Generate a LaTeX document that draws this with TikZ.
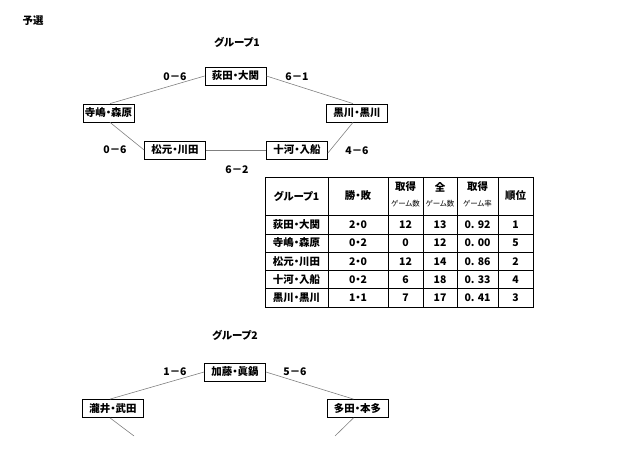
\documentclass[tikz,border=0pt]{standalone}
\usepackage{fontspec}
\setmainfont{Noto Sans CJK JP}[RawFeature=+palt]
\begin{document}
\begin{tikzpicture}[x=1bp,y=-1bp,
	doi/.style={draw,line width=0.8pt,minimum width=61bp,minimum height=18bp,inner sep=0pt,font=\bfseries\fontsize{10.5}{12}\selectfont},
	noi/.style={draw=gray,line width=0.6pt},
	chu/.style={font=\bfseries\fontsize{10.5}{12}\selectfont},
	nho/.style={font=\fontsize{7.5}{9}\selectfont}]
				\useasboundingbox (0,0) rectangle (640,453);
				\node[chu] (tieude) at (33,21) {予選};
				%Nhom 1
				\node[chu] (nhom1) at (237,42) {グループ1};
				\node[doi] (ogita) at (235.5,76) {荻田・大関};
				\node[doi,minimum width=51bp] (terashima) at (108.5,113) {寺嶋・森原};
				\node[doi] (kurokawa) at (357,113) {黒川・黒川};
				\node[doi] (matsumoto) at (175,150) {松元・川田};
				\node[doi] (sogo) at (297,150) {十河・入船};
				%Duong noi 1
				\draw[noi] (ogita.west) -- ([xshift=1.5bp]terashima.north);
				\draw[noi] (ogita.east) -- ([xshift=-4bp]kurokawa.north);
				\draw[noi] ([xshift=1.5bp]terashima.south) -- (matsumoto.west);
				\draw[noi] (matsumoto) -- (sogo);
				\draw[noi] ([yshift=-3bp]sogo.east) -- ([xshift=-4bp]kurokawa.south);
				%Ti so 1
				\node[chu] (kq1) at (175,77) {0－6};
				\node[chu] (kq2) at (297,77) {6－1};
				\node[chu] (kq3) at (115,150) {0－6};
				\node[chu] (kq4) at (357,151) {4－6};
				\node[chu] (kq5) at (237,170) {6－2};
				%Bang
				\draw[line width=0.7pt] (265,177) rectangle (533,307);
				\draw[line width=0.6pt] (328,177)--(328,307) (388,177)--(388,307) (423,177)--(423,307) (457,177)--(457,307) (498,177)--(498,307);
				\draw[line width=0.6pt] (265,215.5)--(533,215.5) (265,233.8)--(533,233.8) (265,252.1)--(533,252.1) (265,270.4)--(533,270.4) (265,288.7)--(533,288.7);
				%Dong tieu de
				\node[chu] (h1) at (296.5,196) {グループ1};
				\node[chu] (h2) at (358,196) {勝・敗};
				\node[chu] (h3) at (405.5,187) {取得};
				\node[nho] (h3b) at (405.5,204) {ゲーム数};
				\node[chu] (h4) at (440,187) {全};
				\node[nho] (h4b) at (440,204) {ゲーム数};
				\node[chu] (h5) at (477.5,187) {取得};
				\node[nho] (h5b) at (477.5,204) {ゲーム率};
				\node[chu] (h6) at (515.5,196) {順位};
				%Dong 1
				\node[chu] at (296.5,224.7) {荻田・大関};
				\node[chu] at (358,224.7) {2・0};
				\node[chu] at (405.5,224.7) {12};
				\node[chu] at (440,224.7) {13};
				\node[chu] at (477.5,224.7) {0. 92};
				\node[chu] at (515.5,224.7) {1};
				%Dong 2
				\node[chu] at (296.5,243) {寺嶋・森原};
				\node[chu] at (358,243) {0・2};
				\node[chu] at (405.5,243) {0};
				\node[chu] at (440,243) {12};
				\node[chu] at (477.5,243) {0. 00};
				\node[chu] at (515.5,243) {5};
				%Dong 3
				\node[chu] at (296.5,261.3) {松元・川田};
				\node[chu] at (358,261.3) {2・0};
				\node[chu] at (405.5,261.3) {12};
				\node[chu] at (440,261.3) {14};
				\node[chu] at (477.5,261.3) {0. 86};
				\node[chu] at (515.5,261.3) {2};
				%Dong 4
				\node[chu] at (296.5,279.6) {十河・入船};
				\node[chu] at (358,279.6) {0・2};
				\node[chu] at (405.5,279.6) {6};
				\node[chu] at (440,279.6) {18};
				\node[chu] at (477.5,279.6) {0. 33};
				\node[chu] at (515.5,279.6) {4};
				%Dong 5
				\node[chu] at (296.5,297.9) {黒川・黒川};
				\node[chu] at (358,297.9) {1・1};
				\node[chu] at (405.5,297.9) {7};
				\node[chu] at (440,297.9) {17};
				\node[chu] at (477.5,297.9) {0. 41};
				\node[chu] at (515.5,297.9) {3};
				%Nhom 2
				\node[chu] (nhom2) at (235,335) {グループ2};
				\node[doi] (kato) at (235,372) {加藤・眞鍋};
				\node[doi] (takii) at (113,408.5) {瀧井・武田};
				\node[doi] (tada) at (357.5,408.5) {多田・本多};
				\coordinate (cuoi1) at (134,436);
				\coordinate (cuoi2) at (335,436);
				%Duong noi 2
				\draw[noi] (kato.west) -- ([xshift=-3bp]takii.north);
				\draw[noi] (kato.east) -- ([xshift=-4bp]tada.north);
				\draw[noi] ([xshift=-3bp]takii.south) -- (cuoi1);
				\draw[noi] ([xshift=-4bp]tada.south) -- (cuoi2);
				%Ti so 2
				\node[chu] (kq6) at (175,372) {1－6};
				\node[chu] (kq7) at (295,372) {5－6};
			\end{tikzpicture}
\end{document}
